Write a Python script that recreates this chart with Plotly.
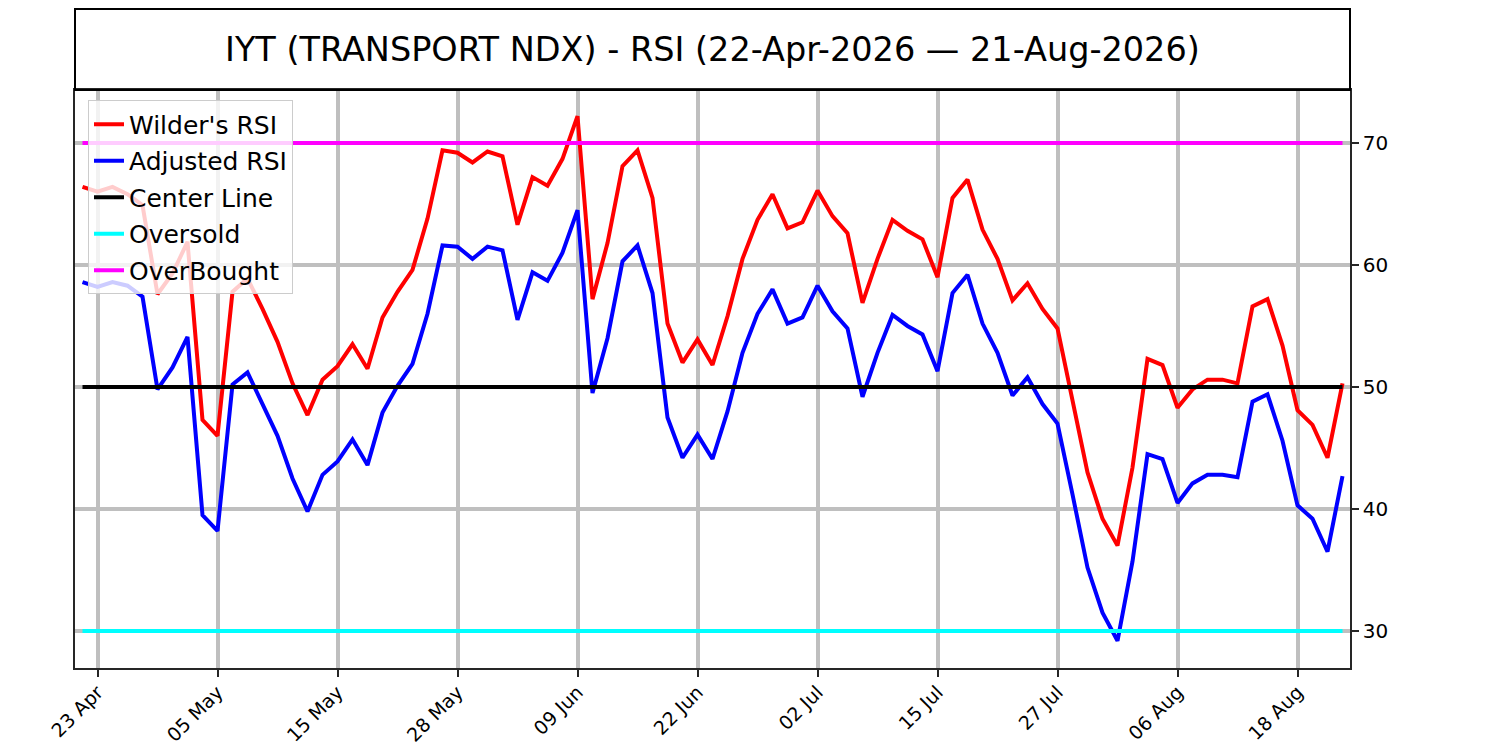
import pandas as pd
import plotly.graph_objects as go

# trading days 22-Apr-2026 .. 21-Aug-2026 (US market holidays removed)
holidays = ['2026-05-25', '2026-06-19', '2026-07-03']
dates = pd.bdate_range('2026-04-22', '2026-08-21', freq='C', holidays=holidays)
days = [d.strftime('%Y-%m-%d') for d in dates]

wilders_rsi = [66.4, 66.0, 66.4, 65.8, 64.9, 57.6, 59.3, 61.9, 47.3, 46.0,
               57.8, 58.9, 56.4, 53.7, 50.3, 47.7, 50.6, 51.7, 53.5, 51.5,
               55.7, 57.8, 59.6, 63.8, 69.4, 69.2, 68.4, 69.3, 68.9, 63.3,
               67.2, 66.5, 68.7, 72.2, 57.2, 61.8, 68.1, 69.4, 65.5, 55.2,
               52.0, 53.9, 51.8, 55.8, 60.5, 63.7, 65.8, 63.0, 63.5, 66.1,
               64.0, 62.6, 56.9, 60.5, 63.7, 62.8, 62.1, 59.0, 65.5, 67.0,
               62.9, 60.5, 57.1, 58.5, 56.4, 54.8, 48.9, 43.0, 39.2, 37.0,
               43.4, 52.3, 51.8, 48.3, 49.8, 50.6, 50.6, 50.3, 56.6, 57.2,
               53.4, 48.1, 46.9, 44.2, 50.3]

adjusted_rsi = [58.6, 58.2, 58.6, 58.3, 57.4, 49.8, 51.6, 54.1, 39.5, 38.2,
                50.2, 51.2, 48.6, 46.0, 42.5, 39.8, 42.8, 43.9, 45.7, 43.6,
                47.9, 50.1, 51.9, 56.0, 61.6, 61.5, 60.5, 61.5, 61.2, 55.5,
                59.4, 58.7, 61.0, 64.5, 49.5, 54.0, 60.3, 61.6, 57.7, 47.5,
                44.2, 46.1, 44.1, 48.0, 52.8, 56.0, 58.0, 55.2, 55.7, 58.3,
                56.2, 54.8, 49.2, 52.8, 55.9, 55.0, 54.3, 51.3, 57.7, 59.2,
                55.2, 52.8, 49.3, 50.8, 48.6, 47.0, 41.2, 35.2, 31.5, 29.2,
                35.7, 44.5, 44.1, 40.5, 42.1, 42.8, 42.8, 42.6, 48.8, 49.4,
                45.6, 40.3, 39.2, 36.5, 42.7]

center_level = 50
oversold_level = 30
overbought_level = 70

tick_days = days[1::8]
tick_text = [pd.Timestamp(d).strftime('%d %b') for d in tick_days]

title = 'IYT (TRANSPORT NDX) - RSI (22-Apr-2026 \u2014 21-Aug-2026)'

series = [
    ("Wilder's RSI", wilders_rsi, 'rgb(255,0,0)'),
    ('Adjusted RSI', adjusted_rsi, 'rgb(0,0,255)'),
    ('Center Line', [center_level] * len(days), 'rgb(0,0,0)'),
    ('Oversold', [oversold_level] * len(days), 'rgb(0,255,255)'),
    ('OverBought', [overbought_level] * len(days), 'rgb(255,0,255)'),
]

traces = []
for name, vals, col in series:
    traces.append(go.Scatter(x=days, y=vals, mode='lines', name=name,
                             legendgroup=name,
                             line=dict(color=col, width=4)))

# page body has an 8px margin, so the figure is drawn 8px in from the top-left
off = 8
W, H = 1500 - off, 750 - off
left, right, top, bottom = 75 - off, 150, 89.5 - off, 82
plot_w = W - left - right
plot_h = H - top - bottom
box_top = 8.5 - off

layout = go.Layout(
    width=W, height=H,
    margin=dict(l=left, r=right, t=top, b=bottom, autoexpand=False),
    paper_bgcolor='white', plot_bgcolor='white',
    font=dict(family='DejaVu Sans', color='black'),
    showlegend=True,
    legend=dict(x=(88 - 75) / plot_w, y=1 - (100 - 89.5) / plot_h,
                xanchor='left', yanchor='top', traceorder='grouped', tracegroupgap=1,
                bgcolor='rgba(255,255,255,0.8)', bordercolor='#cccccc', borderwidth=1,
                font=dict(size=25), itemwidth=30),
    xaxis=dict(type='category', range=[-0.5, len(days) - 0.5], automargin=False,
               tickmode='array', tickvals=tick_days, ticktext=tick_text,
               tickangle=-45, tickfont=dict(size=19), ticklabelstandoff=-3,
               ticks='outside', ticklen=7, tickwidth=1.5, tickcolor='#262626',
               showgrid=True, gridcolor='#bfbfbf', gridwidth=4,
               showline=True, linecolor='#262626', linewidth=1.5, mirror=True),
    yaxis=dict(side='right', range=[26.97, 74.34], automargin=False,
               tickmode='array', tickvals=[30, 40, 50, 60, 70], tickfont=dict(size=20),
               ticks='outside', ticklen=7, tickwidth=1.5, tickcolor='#262626',
               showgrid=True, gridcolor='#bfbfbf', gridwidth=4, zeroline=False,
               showline=True, linecolor='#262626', linewidth=1.5, mirror=True),
    shapes=[dict(type='rect', xref='paper', yref='paper',
                 x0=0, x1=1, y0=1, y1=1 + (top - box_top) / plot_h,
                 line=dict(color='black', width=2), fillcolor='rgba(0,0,0,0)')],
    annotations=[dict(text=title, xref='paper', yref='paper', x=0.5,
                      y=1 + (89.5 - 49) / plot_h, xanchor='center', yanchor='middle',
                      showarrow=False, font=dict(size=33.5, color='black'))],
)

fig = go.Figure(data=traces, layout=layout)
fig.write_html('out.html')
